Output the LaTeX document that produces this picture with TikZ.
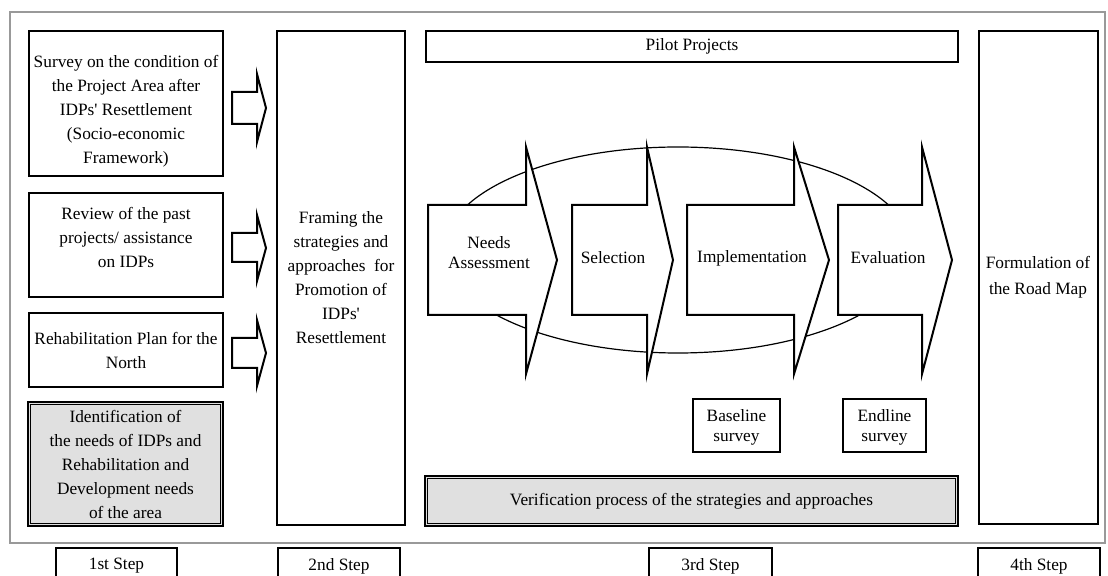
\documentclass[tikz,border=0pt]{standalone}
\usepackage{fontspec}
\setmainfont{Liberation Serif}
\usetikzlibrary{fit}
\newcommand{\ap}{\textquotesingle}
\begin{document}
\begin{tikzpicture}[x=0.5pt,y=-0.5pt,
  box/.style={draw, line width=1pt, fill=white, inner sep=0pt},
  gbox/.style={draw, line width=1.3pt, fill=black!12, inner sep=0pt},
  txt/.style={align=center, font=\fontsize{8.65}{12}\selectfont, inner sep=0pt},
  tight/.style={align=center, font=\fontsize{8.65}{10}\selectfont, inner sep=0pt},
  barrow/.style={draw, line width=1pt, fill=white, line join=miter},
  frame/.style={draw=black!40, line width=1pt}
]
\useasboundingbox (0,0) rectangle (1108,576);
% outer frame
\draw[frame] (10,12) rectangle (1105,543);

% step 1 boxes
\node[box, fit={(29,31) (223,176)}] (survey) {};
\node[txt] (surveyt) at (126,111) {Survey on the condition of\\the Project Area after\\IDPs\ap{} Resettlement\\(Socio-economic\\Framework)};
\node[box, fit={(29,193) (223,297)}] (review) {};
\node[txt] (reviewt) at (126,237) {Review of the past\\projects/ assistance\\on IDPs};
\node[box, fit={(29,313) (223,387)}] (rehab) {};
\node[txt] (rehabt) at (126,350) {Rehabilitation Plan for the\\North};
\node[gbox, fit={(28,402) (223,526)}] (ident) {};
\draw[line width=0.4pt] ([shift={(3.5,3.5)}]ident.north west) rectangle ([shift={(-3.5,-3.5)}]ident.south east);
\node[txt] (identt) at (125.5,464) {Identification of\\the needs of IDPs and\\Rehabilitation and\\Development needs\\of the area};

% small block arrows
\draw[barrow] (232,92) -- (257,92) -- (257,74) -- (266,108) -- (257,142) -- (257,124) -- (232,124) -- cycle;
\draw[barrow] (232,233) -- (257,233) -- (257,215) -- (266,248) -- (257,281) -- (257,262) -- (232,262) -- cycle;
\draw[barrow] (232,338) -- (257,338) -- (257,320) -- (266,353) -- (257,386) -- (257,368) -- (232,368) -- cycle;

% step 2
\node[box, fit={(277,31) (405,525)}] (framing) {};
\node[txt] (framingt) at (341,278) {Framing the\\strategies and\\approaches\ \ for\\Promotion of\\IDPs\ap\\Resettlement};

% step 3
\node[box, fit={(426,31) (958,62)}] (pilot) {};
\node[txt] (pilott) at (692,46) {Pilot Projects};
\draw[line width=0.6pt] (678,250) ellipse [x radius=117pt, y radius=51.5pt];

\draw[barrow] (428,205) -- (526,205) -- (526,147) -- (557,260) -- (526,374) -- (526,315) -- (428,315) -- cycle;
\draw[barrow] (572,205) -- (647,205) -- (647,147) -- (673,260) -- (647,374) -- (647,315) -- (572,315) -- cycle;
\draw[barrow] (687,205) -- (794,205) -- (794,147) -- (829,260) -- (794,374) -- (794,315) -- (687,315) -- cycle;
\draw[barrow] (838,205) -- (922,205) -- (922,147) -- (952,260) -- (922,374) -- (922,315) -- (838,315) -- cycle;

\node[tight] (needs) at (489,253) {Needs\\Assessment};
\node[tight] (selection) at (613,258) {Selection};
\node[tight] (impl) at (752,258) {Implementation};
\node[tight] (eval) at (888,258) {Evaluation};

\node[box, fit={(693,399) (780,452)}] (baseline) {};
\node[tight] (baselinet) at (736.5,427) {Baseline\\survey};
\node[box, fit={(843,399) (926,452)}] (endline) {};
\node[tight] (endlinet) at (884.5,427) {Endline\\survey};

\node[gbox, fit={(425,476) (958,526)}] (verif) {};
\draw[line width=0.4pt] ([shift={(3.5,3.5)}]verif.north west) rectangle ([shift={(-3.5,-3.5)}]verif.south east);
\node[txt] (verift) at (691.5,501) {Verification process of the strategies and approaches};

% step 4
\node[box, fit={(979,31) (1098,524)}] (road) {};
\node[align=center, font=\fontsize{8.65}{13}\selectfont, inner sep=0pt] (roadt) at (1038,277) {Formulation of\\the Road Map};

% step labels
\begin{scope}
\clip (0,0) rectangle (1108,576);
\node[box, fit={(56,548) (177,584)}] (s1) {};
\node[box, fit={(278,548) (400,584)}] (s2) {};
\node[box, fit={(649,548) (772,584)}] (s3) {};
\node[box, fit={(978,548) (1100,584)}] (s4) {};
\end{scope}
\node[txt] (s1t) at (116.5,566) {1st Step};
\node[txt] (s2t) at (339,566) {2nd Step};
\node[txt] (s3t) at (710.5,566) {3rd Step};
\node[txt] (s4t) at (1039,566) {4th Step};
\end{tikzpicture}
\end{document}
